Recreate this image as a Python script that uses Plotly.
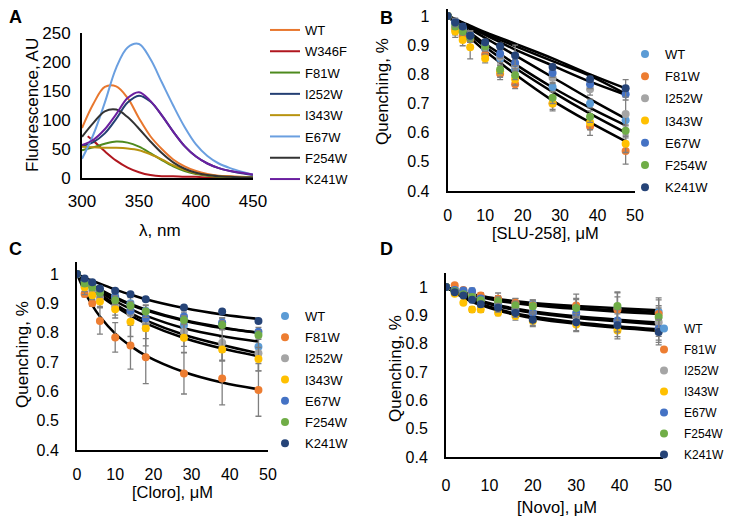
import plotly.graph_objects as go

# ---- panel A: emission spectra ----
wl = [300, 310, 320, 330, 340, 350, 360, 370, 380, 390, 400, 410, 420, 430, 440, 450]
wl_w346f = [305, 310, 320, 330, 340, 350, 360, 370, 380, 390, 400, 410, 420, 430, 440, 450]

spec_names = ['WT', 'W346F', 'F81W', 'I252W', 'I343W', 'E67W', 'F254W', 'K241W']
spec_colors = ['#E8772E', '#B0171F', '#4E8A1E', '#243F73', '#B8930F', '#6A9FE0', '#333333', '#6A1FA0']
spec_wt = [86, 128, 157, 158, 138, 103, 72, 50, 32, 20, 12, 7, 4, 3, 2, 1]
spec_w346f = [72, 64, 46, 30, 18, 10, 5, 3, 3, 2, 2, 1, 1, 1, 0, 0]
spec_f81w = [48, 53, 59, 63, 61, 54, 43, 31, 20, 12, 7, 4, 2, 1, 1, 1]
spec_i252w = [55, 62, 77, 102, 130, 142, 132, 108, 80, 55, 37, 25, 17, 12, 8, 5]
spec_i343w = [54, 53, 52, 52, 51, 48, 41, 32, 22, 14, 8, 5, 3, 2, 1, 1]
spec_e67w = [33, 75, 130, 190, 225, 231, 205, 165, 125, 88, 58, 38, 25, 17, 11, 6]
spec_f254w = [71, 95, 115, 118, 105, 85, 63, 43, 27, 16, 9, 5, 3, 2, 1, 1]
spec_k241w = [57, 66, 84, 110, 138, 148, 133, 108, 80, 55, 37, 25, 17, 12, 9, 6]

# ---- quenching panels ----
mut_names = ['WT', 'F81W', 'I252W', 'I343W', 'E67W', 'F254W', 'K241W']
mut_colors = ['#5B9BD5', '#ED7D31', '#A5A5A5', '#FFC000', '#4472C4', '#70AD47', '#264478']

# B: SLU-258
conc_b = [0, 2, 4, 6, 10, 14, 18, 28, 38, 47.5]
b_wt = [1, 0.975, 0.955, 0.93, 0.887, 0.854, 0.817, 0.757, 0.70, 0.643]
b_f81w = [1, 0.955, 0.93, 0.92, 0.868, 0.802, 0.766, 0.70, 0.621, 0.537]
b_i252w = [1, 0.975, 0.95, 0.93, 0.895, 0.86, 0.83, 0.788, 0.749, 0.664]
b_i343w = [1, 0.947, 0.918, 0.893, 0.854, 0.81, 0.783, 0.70, 0.635, 0.562]
b_e67w = [1, 0.98, 0.96, 0.935, 0.90, 0.871, 0.839, 0.805, 0.766, 0.732]
b_f254w = [1, 0.964, 0.947, 0.925, 0.896, 0.817, 0.797, 0.72, 0.655, 0.607]
b_k241w = [1, 0.978, 0.964, 0.932, 0.91, 0.896, 0.865, 0.825, 0.783, 0.752]
b_err_wt = [0, .01, .01, .015, .012, .015, .02, .015, .015, .02]
b_err_f81w = [0, .02, .015, .02, .015, .02, .015, .025, .03, .045]
b_err_i252w = [0, .015, .015, .02, .015, .02, .02, .02, .02, .06]
b_err_i343w = [0, .02, .02, .04, .015, .02, .02, .02, .025, .03]
b_err_e67w = [0, .01, .01, .015, .01, .015, .02, .015, .015, .02]
b_err_f254w = [0, .01, .01, .015, .01, .015, .015, .02, .02, .02]
b_err_k241w = [0, .015, .01, .015, .01, .01, .035, .01, .01, .03]
b_fit_wt = [1, 0.985, 0.97, 0.955, 0.925, 0.895, 0.865, 0.79, 0.715, 0.648]
b_fit_f81w = [1, 0.975, 0.95, 0.925, 0.88, 0.84, 0.80, 0.71, 0.635, 0.57]
b_fit_i252w = [1, 0.985, 0.972, 0.96, 0.935, 0.91, 0.885, 0.83, 0.775, 0.73]
b_fit_i343w = [1, 0.978, 0.956, 0.935, 0.895, 0.857, 0.822, 0.74, 0.665, 0.60]
b_fit_e67w = [1, 0.988, 0.975, 0.963, 0.94, 0.918, 0.897, 0.845, 0.795, 0.733]
b_fit_f254w = [1, 0.98, 0.962, 0.943, 0.905, 0.87, 0.835, 0.755, 0.685, 0.625]
b_fit_k241w = [1, 0.99, 0.978, 0.967, 0.945, 0.925, 0.905, 0.855, 0.8, 0.752]

# C: Cloro
conc_c = [0, 2, 4, 6, 10, 14, 18, 28, 38, 47.5]
c_wt = [1, 0.975, 0.96, 0.94, 0.925, 0.90, 0.875, 0.826, 0.83, 0.752]
c_f81w = [1, 0.932, 0.90, 0.84, 0.784, 0.756, 0.716, 0.661, 0.644, 0.605]
c_i252w = [1, 0.96, 0.945, 0.92, 0.89, 0.865, 0.83, 0.803, 0.766, 0.73]
c_i343w = [1, 0.955, 0.928, 0.906, 0.88, 0.837, 0.815, 0.783, 0.743, 0.71]
c_e67w = [1, 0.975, 0.965, 0.945, 0.92, 0.875, 0.849, 0.855, 0.835, 0.803]
c_f254w = [1, 0.968, 0.955, 0.936, 0.911, 0.892, 0.872, 0.843, 0.826, 0.792]
c_k241w = [1, 0.985, 0.972, 0.951, 0.943, 0.931, 0.914, 0.886, 0.872, 0.84]
c_err_wt = [0, .01, .01, .015, .015, .02, .02, .02, .02, .03]
c_err_f81w = [0, .01, .01, .045, .05, .08, .09, .07, .09, .09]
c_err_i252w = [0, .03, .03, .03, .03, .04, .05, .05, .06, .06]
c_err_i343w = [0, .015, .015, .02, .03, .05, .06, .05, .04, .04]
c_err_e67w = [0, .01, .01, .015, .015, .015, .02, .015, .015, .015]
c_err_f254w = [0, .01, .01, .015, .015, .015, .02, .015, .015, .015]
c_err_k241w = [0, .005, .005, .005, .005, .005, .005, .005, .005, .005]
c_fit_wt = [1, 0.978, 0.958, 0.94, 0.908, 0.881, 0.858, 0.815, 0.788, 0.77]
c_fit_f81w = [1, 0.94, 0.893, 0.855, 0.797, 0.755, 0.722, 0.666, 0.63, 0.607]
c_fit_i252w = [1, 0.975, 0.952, 0.932, 0.897, 0.867, 0.842, 0.793, 0.758, 0.73]
c_fit_i343w = [1, 0.972, 0.948, 0.927, 0.89, 0.858, 0.832, 0.782, 0.746, 0.72]
c_fit_e67w = [1, 0.98, 0.963, 0.948, 0.921, 0.898, 0.879, 0.843, 0.818, 0.80]
c_fit_f254w = [1, 0.979, 0.961, 0.945, 0.918, 0.895, 0.876, 0.841, 0.816, 0.80]
c_fit_k241w = [1, 0.988, 0.977, 0.967, 0.947, 0.93, 0.914, 0.884, 0.862, 0.847]

# D: Novo
conc_d = [0, 2, 4, 6, 8, 12, 16, 20, 30, 39.5, 49]
d_wt = [1, 0.995, 0.985, 0.975, 0.965, 0.955, 0.944, 0.94, 0.93, 0.925, 0.912]
d_f81w = [1, 1.006, 0.99, 0.98, 0.97, 0.959, 0.945, 0.935, 0.935, 0.92, 0.905]
d_i252w = [1, 0.99, 0.98, 0.97, 0.955, 0.94, 0.925, 0.91, 0.895, 0.88, 0.876]
d_i343w = [1, 0.976, 0.945, 0.921, 0.921, 0.909, 0.898, 0.88, 0.868, 0.847, 0.845]
d_e67w = [1, 0.99, 0.988, 0.986, 0.96, 0.935, 0.915, 0.908, 0.908, 0.882, 0.853]
d_f254w = [1, 0.985, 0.975, 0.965, 0.953, 0.95, 0.935, 0.932, 0.926, 0.933, 0.894]
d_k241w = [1, 0.982, 0.97, 0.955, 0.939, 0.927, 0.908, 0.885, 0.876, 0.865, 0.841]
d_err_wt = [0, .005, .005, .01, .01, .015, .015, .015, .03, .04, .05]
d_err_f81w = [0, .005, .005, .01, .01, .02, .015, .02, .04, .06, .05]
d_err_i252w = [0, .005, .01, .01, .01, .015, .02, .02, .03, .04, .05]
d_err_i343w = [0, .005, .005, .01, .01, .01, .015, .02, .025, .03, .04]
d_err_e67w = [0, .005, .005, .01, .01, .015, .015, .02, .025, .04, .04]
d_err_f254w = [0, .005, .005, .01, .01, .015, .015, .02, .03, .05, .04]
d_err_k241w = [0, .005, .005, .01, .01, .015, .015, .02, .03, .04, .045]
d_fit_wt = [1, 0.99, 0.982, 0.975, 0.969, 0.958, 0.95, 0.944, 0.933, 0.925, 0.918]
d_fit_f81w = [1, 0.99, 0.981, 0.973, 0.967, 0.955, 0.946, 0.939, 0.927, 0.918, 0.912]
d_fit_i252w = [1, 0.985, 0.972, 0.961, 0.952, 0.936, 0.924, 0.914, 0.897, 0.885, 0.875]
d_fit_i343w = [1, 0.98, 0.963, 0.948, 0.936, 0.917, 0.902, 0.89, 0.87, 0.856, 0.845]
d_fit_e67w = [1, 0.984, 0.97, 0.958, 0.948, 0.932, 0.919, 0.909, 0.891, 0.879, 0.868]
d_fit_f254w = [1, 0.989, 0.979, 0.971, 0.964, 0.952, 0.943, 0.936, 0.923, 0.913, 0.905]
d_fit_k241w = [1, 0.981, 0.965, 0.951, 0.94, 0.922, 0.907, 0.896, 0.876, 0.862, 0.851]

FONT = 'Liberation Sans, Arial, sans-serif'
W, H = 733, 519
OFF = 8  # the page body adds an 8px margin, so place everything 8px up/left

fig = go.Figure()

# A
spectra = [spec_wt, spec_w346f, spec_f81w, spec_i252w, spec_i343w, spec_e67w, spec_f254w, spec_k241w]
for name, col, ys in zip(spec_names, spec_colors, spectra):
    xs = wl_w346f if name == 'W346F' else wl
    fig.add_trace(go.Scatter(x=xs, y=ys, name=name, mode='lines',
                             line=dict(color=col, width=2, shape='spline'),
                             xaxis='x', yaxis='y', legend='legend', legendgroup='A' + name))


def add_panel(conc, data, errs, fits, ax, leg):
    # fitted curves first, points on top
    for f in fits:
        fig.add_trace(go.Scatter(x=conc, y=f, mode='lines', showlegend=False, hoverinfo='skip',
                                 line=dict(color='black', width=2.5, shape='spline', smoothing=1.0),
                                 xaxis='x' + ax, yaxis='y' + ax))
    for name, col, ys, e in zip(mut_names, mut_colors, data, errs):
        fig.add_trace(go.Scatter(x=conc, y=ys, name=name, mode='markers',
                                 marker=dict(color=col, size=8),
                                 error_y=dict(type='data', array=e, color='#7F7F7F', thickness=1.3, width=3),
                                 xaxis='x' + ax, yaxis='y' + ax, legend=leg, legendgroup=leg + name))


add_panel(conc_b, [b_wt, b_f81w, b_i252w, b_i343w, b_e67w, b_f254w, b_k241w],
          [b_err_wt, b_err_f81w, b_err_i252w, b_err_i343w, b_err_e67w, b_err_f254w, b_err_k241w],
          [b_fit_wt, b_fit_f81w, b_fit_i252w, b_fit_i343w, b_fit_e67w, b_fit_f254w, b_fit_k241w],
          '2', 'legend2')
add_panel(conc_c, [c_wt, c_f81w, c_i252w, c_i343w, c_e67w, c_f254w, c_k241w],
          [c_err_wt, c_err_f81w, c_err_i252w, c_err_i343w, c_err_e67w, c_err_f254w, c_err_k241w],
          [c_fit_wt, c_fit_f81w, c_fit_i252w, c_fit_i343w, c_fit_e67w, c_fit_f254w, c_fit_k241w],
          '3', 'legend3')
add_panel(conc_d, [d_wt, d_f81w, d_i252w, d_i343w, d_e67w, d_f254w, d_k241w],
          [d_err_wt, d_err_f81w, d_err_i252w, d_err_i343w, d_err_e67w, d_err_f254w, d_err_k241w],
          [d_fit_wt, d_fit_f81w, d_fit_i252w, d_fit_i343w, d_fit_e67w, d_fit_f254w, d_fit_k241w],
          '4', 'legend4')


# helpers take screenshot pixels
def fx(p):
    return (p - OFF) / W


def fy(p):
    return 1 - (p - OFF) / H


def px_x(a, b):
    return [fx(a), fx(b)]


def px_y(top, bottom):
    return [fy(bottom), min(1, fy(top))]


def axis(dom, rng, tickvals, anchor, standoff, size=16):
    return dict(domain=dom, range=rng, tickvals=tickvals, anchor=anchor,
                showline=True, linecolor='black', linewidth=2, showgrid=False, zeroline=False,
                ticks='', ticklabelstandoff=standoff, ticklabeloverflow='allow',
                tickfont=dict(size=size, color='black'))


def legend(text_x, row1_y, gap, size=13):
    return dict(x=fx(text_x - 40), y=fy(row1_y - 16), xanchor='left', yanchor='top', font=dict(size=size),
                tracegroupgap=gap, itemwidth=30, bgcolor='rgba(0,0,0,0)')


q_ticks = [0.4, 0.5, 0.6, 0.7, 0.8, 0.9, 1]
q_text = ['0.4', '0.5', '0.6', '0.7', '0.8', '0.9', '1']
c_ticks = [0, 10, 20, 30, 40, 50]

fig.update_layout(
    width=W, height=H, margin=dict(l=0, r=0, t=0, b=0, autoexpand=False),
    plot_bgcolor='white', paper_bgcolor='white',
    font=dict(family=FONT, color='black'),
    xaxis=axis(px_x(82, 253), [300, 450], [300, 350, 400, 450], 'y', 7, 17),
    yaxis=axis(px_y(33, 178), [0, 250], [0, 50, 100, 150, 200, 250], 'x', 6, 17),
    xaxis2=axis(px_x(447.7, 635), [0, 50], c_ticks, 'y2', 9),
    yaxis2=dict(axis(px_y(9, 191), [0.4, 1.024], q_ticks, 'x2', 13), ticktext=q_text),
    xaxis3=axis(px_x(77, 268), [0, 50], c_ticks, 'y3', 9),
    yaxis3=dict(axis(px_y(262.3, 450), [0.4, 1.04], q_ticks, 'x3', 13), ticktext=q_text),
    xaxis4=axis(px_x(446, 663), [0, 50], c_ticks, 'y4', 13),
    yaxis4=dict(axis(px_y(272.9, 457), [0.4, 1.05], q_ticks, 'x4', 13), ticktext=q_text),
    legend=legend(305, 31, 1.4),
    legend2=legend(665, 55, 2.3),
    legend3=legend(305, 317, 1.3),
    legend4=legend(684, 330, 2.0, 12),
    showlegend=True,
)

# panel letters and axis titles (screenshot pixels)
notes = [
    ('A', 15, 17, 0, 18, True), ('B', 386, 18, 0, 18, True),
    ('C', 15, 249, 0, 18, True), ('D', 386, 249, 0, 18, True),
    ('Fluorescence, AU', 32, 105, -90, 17, False), ('λ, nm', 160, 230, 0, 17, False),
    ('Quenching, %', 382, 92, -90, 17, False), ('[SLU-258], μM', 545, 233, 0, 16.5, False),
    ('Quenching, %', 22, 355, -90, 17, False), ('[Cloro], μM', 172, 492, 0, 16.5, False),
    ('Quenching, %', 395, 369, -90, 17, False), ('[Novo], μM', 557, 507, 0, 16.5, False),
]
for txt, x, y, ang, size, bold in notes:
    fig.add_annotation(x=fx(x), y=fy(y), xref='paper', yref='paper', text='<b>%s</b>' % txt if bold else txt,
                       showarrow=False, textangle=ang, xanchor='center', yanchor='middle',
                       font=dict(size=size, color='black'))

fig.write_html('out.html')
